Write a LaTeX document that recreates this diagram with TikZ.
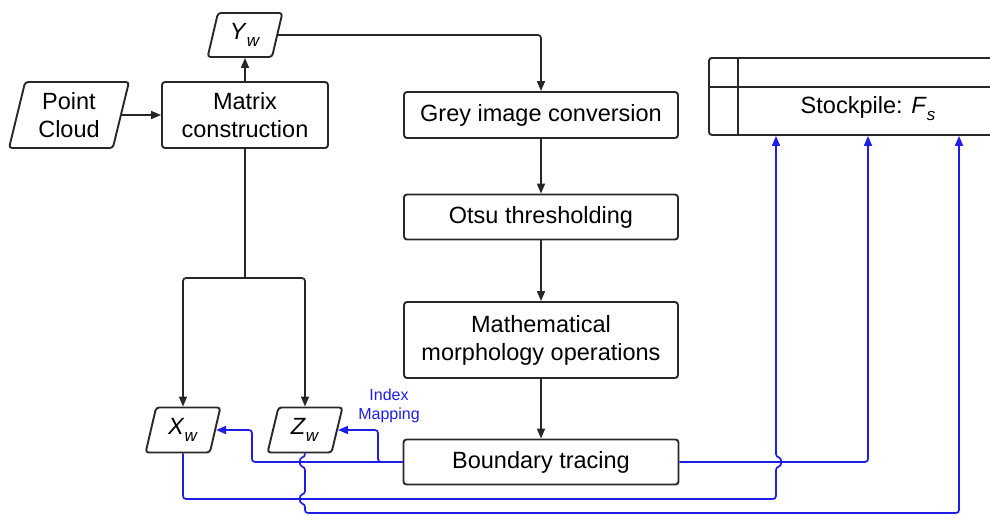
\documentclass[tikz,border=0pt]{standalone}
\usepackage{fontspec}
\setmainfont{Liberation Sans}
\usetikzlibrary{shapes.geometric,arrows.meta}
\definecolor{lineblue}{RGB}{30,30,230}
\definecolor{boxgrey}{RGB}{40,40,40}
\newcommand{\subsc}[2]{\textit{#1}\raisebox{-0.3em}{\fontsize{17}{17}\selectfont\textit{#2}}}
\begin{document}
\begin{tikzpicture}[x=1pt,y=-1pt,
  font=\fontsize{23.5}{28}\selectfont,
  procbox/.style={draw=boxgrey,line width=1.9pt,rounded corners=3pt,rectangle,align=center,inner sep=0pt},
  iobox/.style={draw=boxgrey,line width=1.9pt,rounded corners=3pt,trapezium,trapezium left angle=76,trapezium right angle=104,trapezium stretches=true,align=center,inner sep=0pt},
  blk/.style={draw=black!85,line width=1.7pt,-{Triangle[length=10pt,width=8pt]}},
  blkline/.style={draw=black!85,line width=1.7pt},
  blu/.style={draw=lineblue,line width=1.7pt,rounded corners=3pt,-{Triangle[length=10pt,width=8pt]}}]
\useasboundingbox (0,0) rectangle (990,515);

% nodes
\node[iobox,minimum width=120pt,minimum height=66pt] (pc) at (69,115) {Point\\Cloud};
\node[procbox,minimum width=166pt,minimum height=66pt] (mat) at (245,115) {Matrix\\construction};
\node[iobox,minimum width=75pt,minimum height=44pt] (yw) at (245,35) {\subsc{Y}{w}};
\node[procbox,minimum width=274pt,minimum height=46pt] (grey) at (541,115) {Grey image conversion};
\node[procbox,minimum width=274pt,minimum height=45pt] (otsu) at (541,217) {Otsu thresholding};
\node[procbox,minimum width=274pt,minimum height=76pt] (morph) at (541,340) {Mathematical\\morphology operations};
\node[procbox,minimum width=275pt,minimum height=45pt] (bound) at (541,462) {Boundary tracing};
\node[iobox,minimum width=75pt,minimum height=45pt] (xw) at (183,430) {\subsc{X}{w}};
\node[iobox,minimum width=75pt,minimum height=45pt] (zw) at (305,430) {\subsc{Z}{w}};
\node[procbox,minimum width=300pt,minimum height=77pt,anchor=north west] (stock) at (708,57) {};
\node[anchor=center] (stocktxt) at (868,109) {Stockpile: \subsc{F}{s}};
\node[text=lineblue,align=center,font=\fontsize{16}{18.5}\selectfont] (idx) at (389,406) {Index\\Mapping};

% stockpile inner lines
\draw[draw=boxgrey,line width=1.9pt] (738,57) -- (738,134);
\draw[draw=boxgrey,line width=1.9pt] (708,87) -- (1000,87);

% coordinates
\coordinate (jn) at (245,278);
\coordinate (s1) at (776,0);
\coordinate (s2) at (868,0);
\coordinate (s3) at (959,0);

% black connectors
\draw[blk] (pc.east) -- (mat.west);
\draw[blk] (mat.north) -- (yw.south);
\draw[blk,rounded corners=3pt] (yw.east) -| (grey.north);
\draw[blk] (grey.south) -- (otsu.north);
\draw[blk] (otsu.south) -- (morph.north);
\draw[blk] (morph.south) -- (bound.north);
\draw[blkline] (mat.south) -- (jn);
\draw[blk,rounded corners=3pt] (jn) -| (xw.north);
\draw[blk,rounded corners=3pt] (jn) -| (zw.north);

% blue connectors
\draw[blu] (bound.west) -- (252,462) |- (xw.east);
\draw[blu] (bound.west) -- (378,462) |- (zw.east);
\draw[blu] (bound.east) -| (stock.south -| s2);
\draw[blu] (xw.south) |- (776,499) -- (776,467)
   .. controls (782,466) and (782,458) .. (776,457) -- (stock.south -| s1);
\draw[blu] (zw.south) -- (305,457)
   .. controls (299,458) and (299,466) .. (305,467) -- (305,494)
   .. controls (299,495) and (299,503) .. (305,504) |- (959,513) -- (stock.south -| s3);
\end{tikzpicture}
\end{document}
